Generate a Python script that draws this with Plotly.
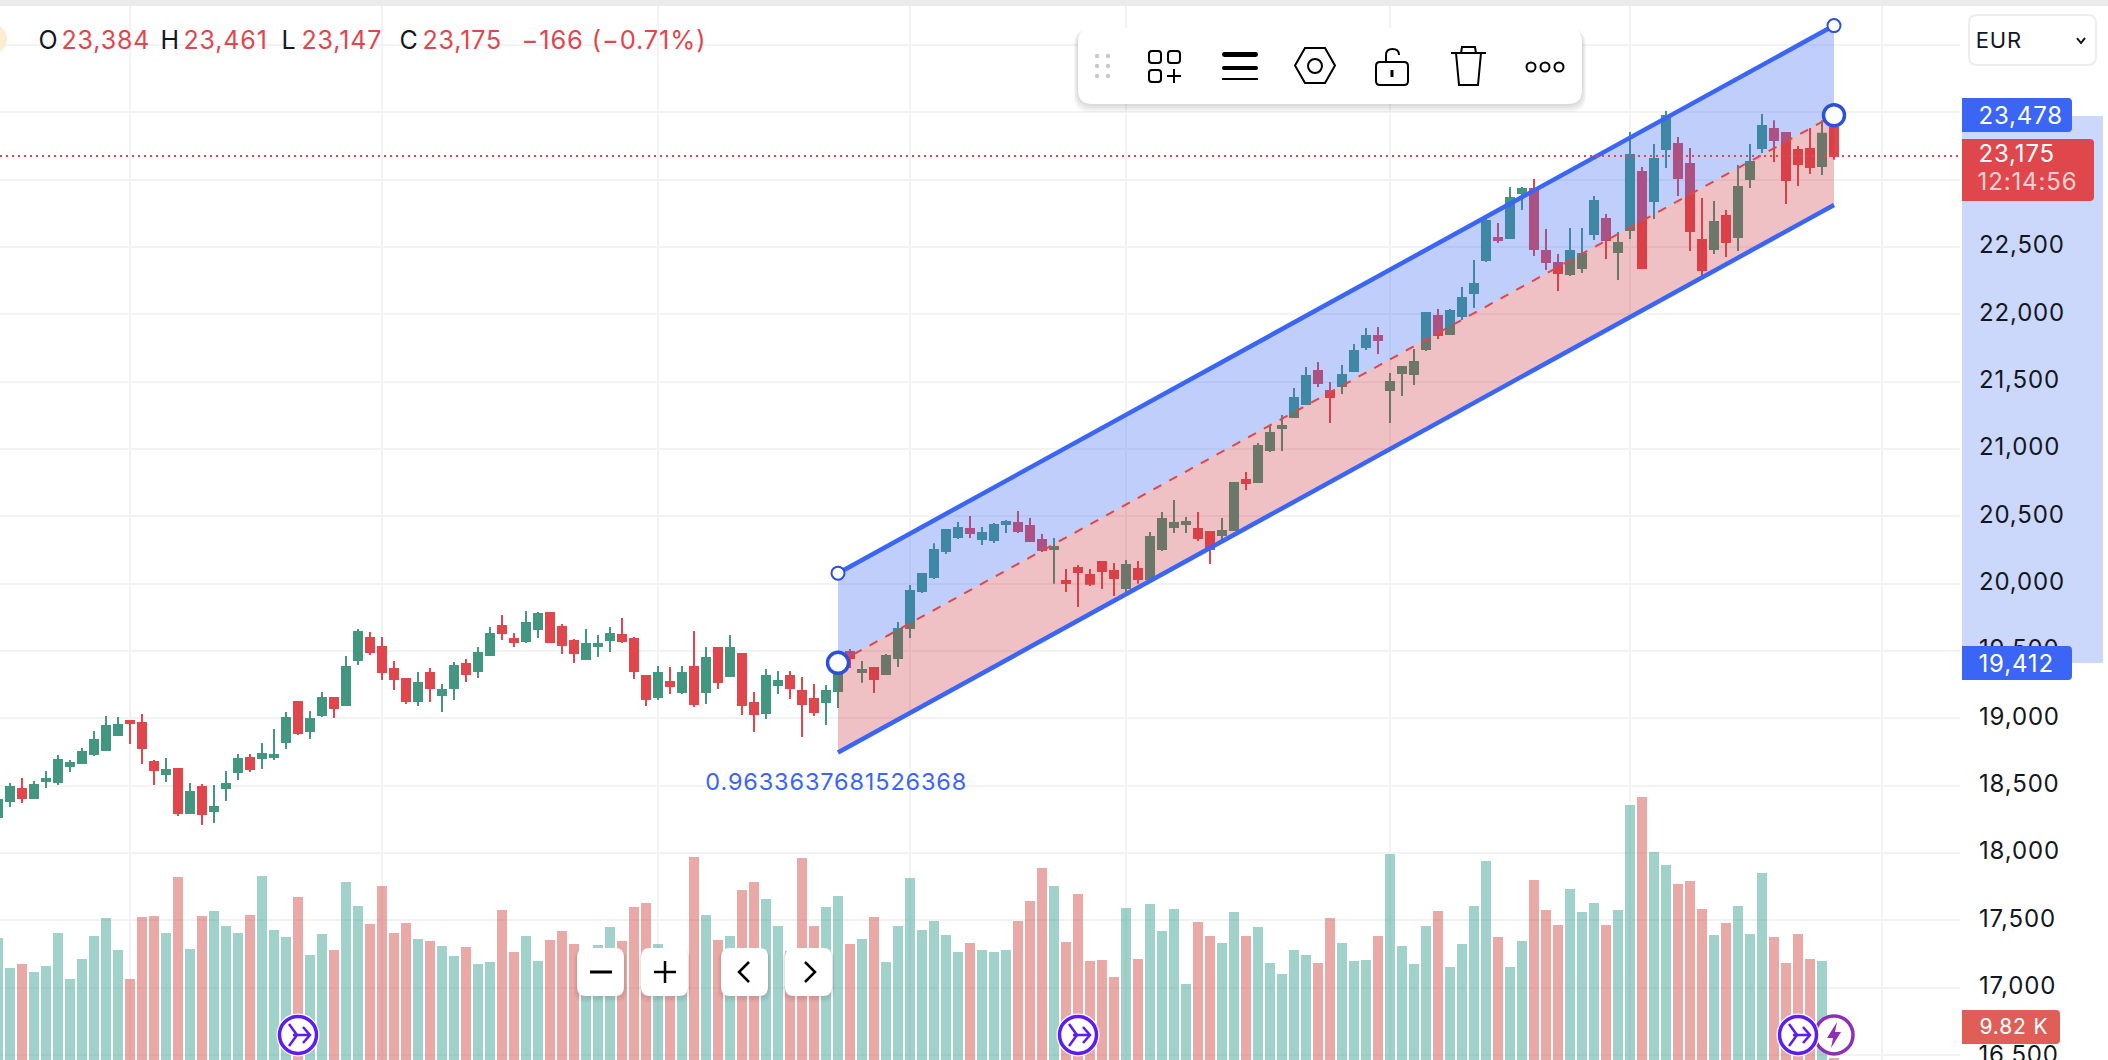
import plotly.graph_objects as go

candle_index = list(range(-1, 153))

opens = [18268, 18386, 18475, 18409, 18535, 18527, 18646, 18668, 18735, 18765, 18876, 18980, 18965, 18676, 18587, 18624,
         18297, 18490, 18312, 18483, 18602, 18706, 18706, 18713, 18824, 19121, 18906, 19025, 19151, 19099, 19433, 19597,
         19530, 19366, 19292, 19129, 19337, 19173, 19225, 19404, 19352, 19470, 19686, 19589, 19574, 19663, 19782, 19678,
         19574, 19441, 19537, 19582, 19619, 19589, 19314, 19159, 19270, 19196, 19381, 19196, 19522, 19314, 19478, 19114,
         19040, 19248, 19314, 19203, 19144, 19121, 19203, 19493, 19344, 19374, 19330, 19448, 19671, 19946, 20050, 20243,
         20347, 20406, 20332, 20325, 20443, 20451, 20428, 20325, 20258, 20020, 20117, 20065, 20161, 20094, 19968, 20109,
         20035, 20258, 20421, 20443, 20406, 20384, 20362, 20399, 20770, 20755, 20992, 21156, 21238, 21334, 21579, 21431,
         21468, 21579, 21757, 21839, 21438, 21564, 21557, 21742, 21987, 21854, 21987, 22158, 22403, 22566, 22566, 22900,
         22930, 22470, 22381, 22299, 22344, 22596, 22707, 22462, 22626, 23056, 22841, 23227, 23264, 23116, 22551, 22485,
         22730, 22574, 23004, 23235, 23376, 23346, 23220, 23227, 23101, 23384]
highs = [18406, 18520, 18557, 18535, 18609, 18728, 18691, 18780, 18906, 19017, 19010, 18988, 19032, 18691, 18706, 18631,
         18520, 18513, 18505, 18609, 18735, 18735, 18817, 18921, 19047, 19129, 19055, 19196, 19151, 19463, 19663, 19641,
         19604, 19426, 19300, 19344, 19374, 19255, 19418, 19441, 19530, 19678, 19767, 19634, 19797, 19790, 19782, 19701,
         19589, 19663, 19619, 19678, 19745, 19604, 19322, 19389, 19381, 19389, 19649, 19530, 19530, 19619, 19485, 19196,
         19366, 19352, 19352, 19307, 19255, 19248, 19359, 19515, 19426, 19381, 19478, 19716, 19990, 20080, 20300, 20399,
         20458, 20503, 20421, 20451, 20473, 20540, 20488, 20369, 20339, 20109, 20139, 20109, 20161, 20154, 20176, 20169,
         20384, 20532, 20622, 20495, 20532, 20391, 20488, 20755, 20829, 21044, 21178, 21252, 21453, 21609, 21646, 21497,
         21624, 21780, 21898, 21906, 21564, 21616, 21742, 22017, 22039, 22039, 22203, 22403, 22707, 22678, 22945, 22945,
         23004, 22633, 22448, 22641, 22641, 22878, 22745, 22611, 23353, 23094, 23264, 23509, 23316, 23235, 22863, 22841,
         22774, 23108, 23264, 23487, 23442, 23353, 23249, 23383, 23442, 23461]
lows = [18245, 18342, 18371, 18401, 18483, 18505, 18602, 18668, 18720, 18765, 18876, 18810, 18661, 18505, 18527, 18275,
        18297, 18208, 18223, 18386, 18542, 18602, 18624, 18691, 18772, 18876, 18847, 19010, 19003, 19099, 19396, 19470,
        19285, 19210, 19107, 19092, 19121, 19047, 19136, 19270, 19300, 19470, 19582, 19530, 19559, 19597, 19567, 19478,
        19411, 19433, 19456, 19493, 19559, 19292, 19092, 19136, 19181, 19181, 19084, 19107, 19218, 19314, 19025, 18899,
        18995, 19181, 19144, 18861, 19017, 18951, 19077, 19374, 19265, 19188, 19330, 19381, 19597, 19931, 20035, 20221,
        20332, 20339, 20287, 20302, 20376, 20376, 20310, 20235, 20000, 19938, 19827, 19983, 19961, 19909, 19938, 20000,
        20035, 20243, 20376, 20376, 20317, 20146, 20325, 20391, 20696, 20755, 20978, 20985, 21238, 21334, 21460, 21193,
        21408, 21579, 21735, 21705, 21193, 21393, 21475, 21728, 21817, 21846, 21958, 22047, 22388, 22529, 22559, 22774,
        22433, 22329, 22173, 22284, 22306, 22551, 22410, 22254, 22559, 22344, 22707, 23086, 22878, 22470, 22284, 22448,
        22425, 22470, 22938, 23197, 23131, 22819, 22952, 23042, 23034, 23147]
closes = [18394, 18490, 18409, 18505, 18550, 18691, 18668, 18750, 18839, 18943, 18951, 18965, 18780, 18617, 18617, 18297,
          18453, 18290, 18342, 18513, 18698, 18624, 18735, 18728, 19003, 18891, 18995, 19151, 19077, 19381, 19641, 19493,
          19344, 19292, 19129, 19262, 19225, 19210, 19389, 19329, 19485, 19626, 19634, 19567, 19708, 19775, 19567, 19545,
          19485, 19552, 19552, 19626, 19574, 19352, 19144, 19337, 19240, 19337, 19107, 19448, 19270, 19522, 19099, 19032,
          19314, 19277, 19225, 19107, 19047, 19203, 19334, 19448, 19359, 19292, 19463, 19664, 19946, 20072, 20250, 20399,
          20414, 20376, 20376, 20436, 20458, 20391, 20317, 20250, 20273, 20005, 20087, 20000, 20094, 20042, 20139, 20035,
          20347, 20480, 20451, 20458, 20339, 20258, 20391, 20748, 20747, 21022, 21119, 21171, 21379, 21542, 21490, 21386,
          21549, 21728, 21839, 21809, 21497, 21609, 21646, 22010, 21846, 22025, 22121, 22225, 22693, 22551, 22863, 22930,
          22485, 22388, 22306, 22470, 22448, 22841, 22551, 22529, 23183, 22344, 23153, 23472, 23012, 22618, 22329, 22685,
          22537, 22945, 23131, 23398, 23294, 22997, 23116, 23094, 23341, 23175]
volumes = [39.8, 32.3, 33.3, 31.3, 32.8, 41.1, 29.5, 34.5, 40.3, 44.8, 36.8, 29.5, 45.0, 45.3, 41.1, 55.1,
           37.1, 45.3, 46.6, 42.8, 41.1, 45.5, 55.3, 41.8, 40.0, 50.0, 35.5, 40.8, 36.8, 53.8, 47.8, 43.3,
           52.8, 41.1, 43.5, 39.6, 39.0, 37.8, 35.3, 37.5, 33.3, 33.8, 46.8, 36.3, 40.3, 34.0, 39.3, 41.5,
           38.3, 36.0, 38.1, 42.5, 39.0, 47.5, 48.5, 38.3, 36.0, 36.0, 60.0, 45.5, 39.3, 40.3, 51.8, 53.8,
           49.5, 42.8, 36.5, 59.8, 42.8, 47.5, 50.3, 38.3, 39.6, 45.0, 33.8, 42.8, 54.8, 41.8, 44.0, 40.6,
           36.3, 38.6, 36.8, 36.3, 36.8, 44.0, 49.0, 57.3, 52.8, 38.8, 50.8, 34.0, 34.3, 30.0, 47.3, 34.5,
           48.3, 41.5, 47.0, 28.3, 43.8, 40.3, 38.5, 46.3, 40.3, 42.6, 33.6, 30.8, 36.8, 35.5, 33.6, 44.8,
           38.5, 34.0, 34.3, 40.3, 60.8, 37.8, 33.3, 42.8, 46.5, 32.6, 38.3, 47.8, 59.0, 40.0, 32.6, 39.0,
           54.3, 46.8, 43.0, 52.0, 46.3, 48.6, 43.0, 46.8, 73.0, 75.0, 61.3, 58.0, 53.3, 54.0, 47.0, 40.5,
           43.5, 47.8, 40.8, 56.0, 40.0, 33.6, 40.8, 34.5, 34.0, 9.82]

month_ticks = [10, 31, 54, 75, 93, 115, 135, 156]
price_ticks = list(range(16500, 24500, 500))
# the top three axis labels sit behind the price boxes and the currency select,
# the bottom one is cut by the page edge and is written separately
price_labels = ["{0:,}".format(p) if 16500 < p < 23000 else "" for p in price_ticks]

channel_x = [69, 152]
channel_upper = [20078, 24144]
channel_center = [19412, 23478]
channel_lower = [18746, 22812]
channel_ratio = "0.9633637681526368"

event_index = [24, 89, 149]
event_level = [15.6, 15.6, 15.6]
flash_index = [152]
flash_level = [15.6]

GREEN = "#43967F"
RED = "#E0474D"
BLUE = "#3B66F5"
HANDLE = "#2C50D8"
GRID = "#F3F3F3"
INK = "#131722"
EVENT = "#5B1CF5"
FLASH = "#8E2FB5"

PLOT_W = 1960
PAGE_H = 1060
TRACKING = 0.85


def px(x):
    return x / PLOT_W


def py(y):
    return 1 - y / PAGE_H


def path_of(points, close=False):
    parts = [("M" if n == 0 else "L") + "{0:.5f},{1:.5f}".format(px(x), py(y)) for n, (x, y) in enumerate(points)]
    return " ".join(parts) + (" Z" if close else "")


def rounded(x0, y0, x1, y1, r, left=True):
    rl = r if left else 0
    pts = "M{0:.5f},{1:.5f} ".format(px(x0 + rl), py(y0))
    pts += "L{0:.5f},{1:.5f} ".format(px(x1 - r), py(y0))
    pts += "Q{0:.5f},{1:.5f} {2:.5f},{3:.5f} ".format(px(x1), py(y0), px(x1), py(y0 + r))
    pts += "L{0:.5f},{1:.5f} ".format(px(x1), py(y1 - r))
    pts += "Q{0:.5f},{1:.5f} {2:.5f},{3:.5f} ".format(px(x1), py(y1), px(x1 - r), py(y1))
    pts += "L{0:.5f},{1:.5f} ".format(px(x0 + rl), py(y1))
    if left:
        pts += "Q{0:.5f},{1:.5f} {2:.5f},{3:.5f} ".format(px(x0), py(y1), px(x0), py(y1 - r))
        pts += "L{0:.5f},{1:.5f} ".format(px(x0), py(y0 + r))
        pts += "Q{0:.5f},{1:.5f} {2:.5f},{3:.5f} ".format(px(x0), py(y0), px(x0 + r), py(y0))
    else:
        pts += "L{0:.5f},{1:.5f} ".format(px(x0), py(y0))
    return pts + "Z"


def add_path(fig, path, fill="rgba(0,0,0,0)", color="rgba(0,0,0,0)", width=0, layer="above"):
    fig.add_shape(type="path", path=path, xref="paper", yref="paper", fillcolor=fill,
                  line=dict(color=color, width=width), layer=layer)


def add_circle(fig, cx, cy, r, fill="rgba(0,0,0,0)", color="rgba(0,0,0,0)", width=0):
    fig.add_shape(type="circle", xref="paper", yref="paper", x0=px(cx - r), x1=px(cx + r),
                  y0=py(cy + r), y1=py(cy - r), fillcolor=fill, line=dict(color=color, width=width))


def add_text(fig, x, y, text, color=INK, size=24):
    # annotation text is centred in its box and the tracking is added after layout,
    # so move right by half of that growth and back by the box padding
    shift = len(text) * TRACKING / 2 - 3
    fig.add_annotation(xref="paper", yref="paper", x=px(x + shift), y=py(y), text=text, showarrow=False,
                       xanchor="left", yanchor="middle", font=dict(family="Inter", size=size, color=color))


def add_card(fig, x0, y0, x1, y1, r, spread):
    # soft shadow, then the white card
    for step in range(spread, 0, -2):
        add_path(fig, rounded(x0 - step / 2, y0 + 1, x1 + step / 2, y1 + step, r + 2), fill="rgba(0,0,0,0.035)")
    add_path(fig, rounded(x0, y0, x1, y1, r), fill="white")


bar_colors = ["rgba(67,163,151,0.5)" if c >= o else "rgba(211,83,79,0.5)" for o, c in zip(opens, closes)]

fig = go.Figure()

fig.add_trace(go.Bar(x=candle_index, y=volumes, width=0.83, yaxis="y2", marker=dict(color=bar_colors, line=dict(width=0))))

fig.add_trace(go.Candlestick(x=candle_index, open=opens, high=highs, low=lows, close=closes, whiskerwidth=0,
                             increasing=dict(line=dict(color=GREEN, width=2), fillcolor=GREEN),
                             decreasing=dict(line=dict(color=RED, width=2), fillcolor=RED)))

# channel bands sit on top of the candles
fig.add_trace(go.Scatter(x=channel_x + channel_x[::-1], y=channel_center + channel_upper[::-1], mode="lines",
                         fill="toself", fillcolor="rgba(59,102,245,0.32)", line=dict(width=0)))
fig.add_trace(go.Scatter(x=channel_x + channel_x[::-1], y=channel_center + channel_lower[::-1], mode="lines",
                         fill="toself", fillcolor="rgba(205,50,60,0.3)", line=dict(width=0)))
fig.add_trace(go.Scatter(x=channel_x, y=channel_upper, mode="lines", line=dict(color=BLUE, width=4.5)))
fig.add_trace(go.Scatter(x=channel_x, y=channel_lower, mode="lines", line=dict(color=BLUE, width=4.5)))
fig.add_trace(go.Scatter(x=channel_x, y=channel_center, mode="lines", line=dict(color=RED, width=2, dash="9px,9px")))

# anchors
fig.add_trace(go.Scatter(x=channel_x, y=channel_upper, mode="markers",
                         marker=dict(size=13, color="white", line=dict(color=HANDLE, width=2))))
fig.add_trace(go.Scatter(x=channel_x, y=channel_center, mode="markers",
                         marker=dict(size=21, color="white", line=dict(color=HANDLE, width=3.5))))

# event badges
fig.add_trace(go.Scatter(x=flash_index, y=flash_level, yaxis="y2", mode="markers",
                         marker=dict(size=38, color="white", line=dict(color=FLASH, width=3.5))))
fig.add_trace(go.Scatter(x=event_index, y=event_level, yaxis="y2", mode="markers",
                         marker=dict(size=43, color="white", line=dict(color="white", width=0))))
fig.add_trace(go.Scatter(x=event_index, y=event_level, yaxis="y2", mode="markers",
                         marker=dict(size=37, color="white", line=dict(color=EVENT, width=3.5))))

fig.update_layout(width=2108, height=PAGE_H, autosize=False, showlegend=False, plot_bgcolor="white",
                  paper_bgcolor="white", margin=dict(l=0, r=148, t=0, b=0, pad=0), boxmode="overlay",
                  boxgap=0.33, boxgroupgap=0, hovermode=False, font=dict(family="Inter"),
                  bargap=0)
fig.update_xaxes(range=[-0.8333, 162.5], rangeslider=dict(visible=False), tickmode="array", tickvals=month_ticks,
                 showticklabels=False, ticks="", showgrid=True, gridcolor=GRID, gridwidth=2, zeroline=False,
                 showline=False)
fig.update_yaxes(range=[16463, 24334], side="right", tickmode="array", tickvals=price_ticks, ticktext=price_labels,
                 tickfont=dict(family="Inter", size=24, color=INK), ticks="", showgrid=True, gridcolor=GRID,
                 gridwidth=2, zeroline=False, showline=False, ticklabelstandoff=18, ticklabelshift=-2)
fig.update_layout(yaxis2=dict(overlaying="y", side="left", range=[9.325, 274.3], visible=False, showgrid=False))

# last price dotted line
fig.add_shape(type="line", xref="paper", yref="y", x0=0, x1=1, y0=closes[-1], y1=closes[-1],
              line=dict(color=RED, width=2, dash="2px,4px"), layer="above")

# axis highlight between the two anchors
add_path(fig, path_of([(1962, 116), (2103, 116), (2103, 663), (1962, 663)], True), fill="#CBD8FB", layer="below")

# page top strip and the badge cut off on the left
add_path(fig, path_of([(0, 0), (2108, 0), (2108, 6), (0, 6)], True), fill="#EBEBEB")
add_circle(fig, -8, 39, 15, fill="#FDEBD2")

# header readout
header_letters = ["O", "H", "L", "C"]
header_values = [opens[-1], highs[-1], lows[-1], closes[-1]]
header_letter_x = [40, 162, 283, 401]
header_value_x = [62, 184, 302, 423]
for letter, value, lx, vx in zip(header_letters, header_values, header_letter_x, header_value_x):
    add_text(fig, lx, 40, letter, size=25)
    add_text(fig, vx, 40, "{0:,}".format(value), color=RED, size=25)
add_text(fig, 522, 40, "\u2212166 (\u22120.71%)", color=RED, size=25.5)

add_text(fig, 706, 781, channel_ratio, color=BLUE, size=23.5)

# axis labels
add_text(fig, 1979, 1054, "{0:,}".format(price_ticks[0]))
add_path(fig, rounded(1962, 98, 2072, 132, 4, left=False), fill=BLUE)
add_text(fig, 1979, 115, "{0:,}".format(channel_center[1]), color="white")
add_path(fig, rounded(1962, 139, 2094, 201, 4, left=False), fill=RED)
add_text(fig, 1979, 154, "{0:,}".format(closes[-1]), color="white")
add_text(fig, 1979, 182, "12:14:56", color="rgba(255,255,255,0.75)")
add_path(fig, rounded(1962, 646, 2072, 680, 4, left=False), fill=BLUE)
add_text(fig, 1979, 663, "{0:,}".format(channel_center[0]), color="white")
add_path(fig, rounded(1962, 1010, 2060, 1044, 4, left=False), fill="#DF5F58")
add_text(fig, 1980, 1026, "9.82 K", color="white", size=21)

# currency select
add_path(fig, rounded(1969, 15, 2096, 65, 8), fill="white", color="#EDEDED", width=2)
add_text(fig, 1977, 40, "EUR", size=22)
add_path(fig, path_of([(2077, 38), (2081, 43), (2085, 38)]), color=INK, width=2)

# drawing toolbar
add_card(fig, 1078, 28, 1582, 104, 14, 8)
for dx in [1097, 1108]:
    for dy in [56, 66, 76]:
        add_circle(fig, dx, dy, 2.2, fill="#C9C9C9")
add_path(fig, rounded(1149, 51, 1161, 63, 3), color="black", width=2)
add_path(fig, rounded(1168, 51, 1180, 63, 3), color="black", width=2)
add_path(fig, rounded(1149, 70, 1161, 82, 3), color="black", width=2)
add_path(fig, path_of([(1167, 76), (1181, 76)]), color="black", width=2)
add_path(fig, path_of([(1174, 69), (1174, 83)]), color="black", width=2)
add_path(fig, rounded(1222, 52, 1258, 57, 2.4), fill="black")
add_path(fig, rounded(1222, 66, 1258, 70, 1.9), fill="black")
add_path(fig, path_of([(1222, 79), (1258, 79)]), color="black", width=2)
add_path(fig, path_of([(1295, 65.5), (1305, 48), (1325, 48), (1335, 65.5), (1325, 83), (1305, 83)], True), color="black", width=2)
add_circle(fig, 1315, 66, 7, color="black", width=2)
add_path(fig, rounded(1376, 62, 1408, 85, 4), color="black", width=2)
add_path(fig, "M{0},{1} L{0},{2} Q{0},{3} {4},{3} Q{5},{3} {5},{6}".format(
    px(1386), py(62), py(55), py(49), px(1392.5), px(1399), py(55)), color="black", width=2)
add_path(fig, path_of([(1392, 70), (1392, 77)]), color="black", width=3)
add_path(fig, path_of([(1451, 53), (1486, 53)]), color="black", width=2)
add_path(fig, path_of([(1461, 53), (1462, 47), (1475, 47), (1476, 53)]), color="black", width=2)
add_path(fig, path_of([(1456, 53), (1459, 85), (1478, 85), (1481, 53)]), color="black", width=2)
for cx in [1531, 1545, 1559]:
    add_circle(fig, cx, 67, 4.5, color="black", width=2)

# zoom and pan buttons
for x0 in [577, 641, 721, 785]:
    add_card(fig, x0, 948, x0 + 47, 996, 9, 6)
add_path(fig, path_of([(590, 972), (612, 972)]), color="black", width=3)
add_path(fig, path_of([(654, 972), (676, 972)]), color="black", width=2.5)
add_path(fig, path_of([(665, 961), (665, 983)]), color="black", width=2.5)
add_path(fig, path_of([(749, 962), (739, 972), (749, 982)]), color="black", width=2.5)
add_path(fig, path_of([(805, 962), (815, 972), (805, 982)]), color="black", width=2.5)

# badge glyphs
for cx in [298, 1078, 1798]:
    add_path(fig, path_of([(cx - 9, 1024), (cx - 1, 1035), (cx - 9, 1046)]), color=EVENT, width=2.5)
    add_path(fig, path_of([(cx - 5, 1035), (cx + 12, 1035)]), color=EVENT, width=2.5)
    add_path(fig, path_of([(cx + 5, 1027), (cx + 12, 1035), (cx + 5, 1043)]), color=EVENT, width=2.5)
add_path(fig, path_of([(1837, 1022), (1827, 1038), (1833, 1038), (1831, 1048), (1841, 1032), (1835, 1032)], True), fill=FLASH)

# the reference text is tracked a little wider than Inter
page_script = ("document.body.style.margin='0';document.body.style.overflow='hidden';"
               "var s=document.createElement('style');s.textContent='svg text{letter-spacing:" + str(TRACKING) + "px}';"
               "document.head.appendChild(s);")
fig.write_html("out.html", config={"displayModeBar": False}, post_script=page_script)
